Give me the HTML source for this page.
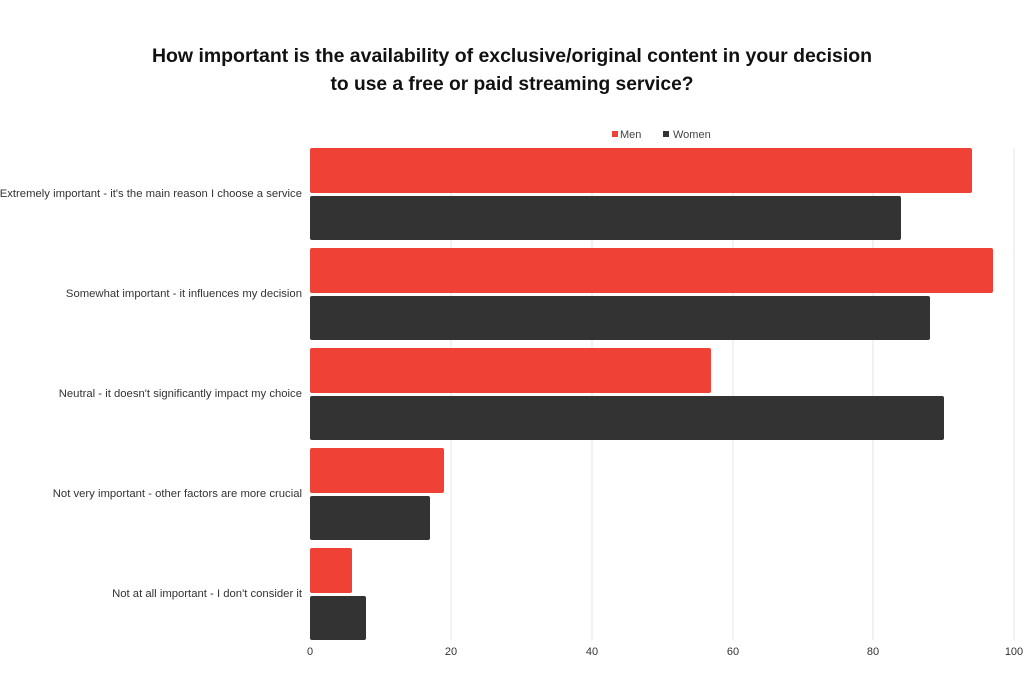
<!DOCTYPE html>
<html><head><meta charset="utf-8"><style>
html,body{margin:0;padding:0;background:#fff;}
svg{display:block;font-family:"Liberation Sans",sans-serif;}
</style></head><body>
<svg width="1024" height="683" viewBox="0 0 1024 683">
<rect width="1024" height="683" fill="#fff"/>
<text x="512" y="62" text-anchor="middle" font-size="19.4" font-weight="bold" fill="#111" textLength="720" lengthAdjust="spacingAndGlyphs">How important is the availability of exclusive/original content in your decision</text>
<text x="512" y="90" text-anchor="middle" font-size="19.4" font-weight="bold" fill="#111" textLength="363" lengthAdjust="spacingAndGlyphs">to use a free or paid streaming service?</text>
<rect x="612" y="131" width="6" height="6" fill="#ef4136"/>
<text x="620" y="138" font-size="11" fill="#444">Men</text>
<rect x="663" y="131" width="6" height="6" fill="#333"/>
<text x="673" y="138" font-size="11" fill="#444">Women</text>
<g stroke="#e6e6e6" stroke-width="1">
<line x1="451" y1="148" x2="451" y2="640"/><line x1="592" y1="148" x2="592" y2="640"/>
<line x1="733" y1="148" x2="733" y2="640"/><line x1="873" y1="148" x2="873" y2="640"/>
<line x1="1014" y1="148" x2="1014" y2="640"/>
</g>
<g fill="#ef4136">
<rect x="310" y="148" width="662" height="45" rx="2"/>
<rect x="310" y="248" width="683" height="45" rx="2"/>
<rect x="310" y="348" width="401" height="45" rx="2"/>
<rect x="310" y="448" width="134" height="45" rx="2"/>
<rect x="310" y="548" width="42" height="45" rx="2"/>
</g>
<g fill="#333">
<rect x="310" y="196" width="591" height="44" rx="2"/>
<rect x="310" y="296" width="620" height="44" rx="2"/>
<rect x="310" y="396" width="634" height="44" rx="2"/>
<rect x="310" y="496" width="120" height="44" rx="2"/>
<rect x="310" y="596" width="56" height="44" rx="2"/>
</g>
<g font-size="11.3" fill="#333" text-anchor="end">
<text x="302" y="197">Extremely important - it's the main reason I choose a service</text>
<text x="302" y="297">Somewhat important - it influences my decision</text>
<text x="302" y="397">Neutral - it doesn't significantly impact my choice</text>
<text x="302" y="497">Not very important - other factors are more crucial</text>
<text x="302" y="597">Not at all important - I don't consider it</text>
</g>
<g font-size="11" fill="#333" text-anchor="middle">
<text x="310" y="655">0</text><text x="451" y="655">20</text><text x="592" y="655">40</text>
<text x="733" y="655">60</text><text x="873" y="655">80</text><text x="1014" y="655">100</text>
</g>
</svg>
</body></html>
